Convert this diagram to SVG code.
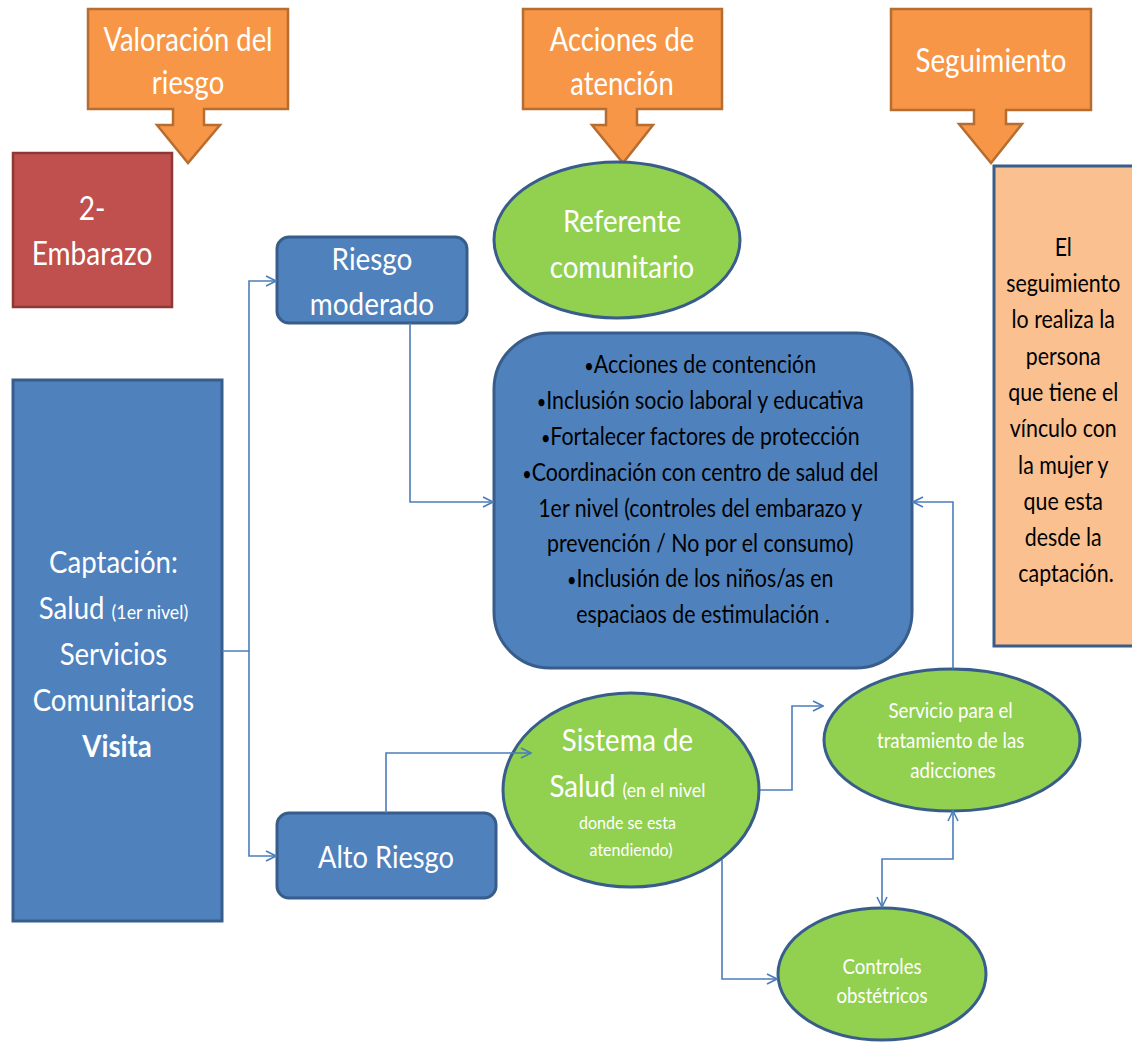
<svg xmlns="http://www.w3.org/2000/svg" width="1132" height="1047" viewBox="0 0 1132 1047">
  <defs>
    <style>
      .callout { fill: #f79646; stroke: #b66d31; stroke-width: 2.5; stroke-linejoin: miter; }
      .red { fill: #c0504d; stroke: #8c3836; stroke-width: 2.5; }
      .blue { fill: #4f81bd; stroke: #385d8a; stroke-width: 3; }
      .green { fill: #92d050; stroke: #385d8a; stroke-width: 3; }
      .peach { fill: #fac090; stroke: #385d8a; stroke-width: 3; }
      .conn { fill: none; stroke: #4a7ebb; stroke-width: 1.6; }
      text { font-family: Lato, "Open Sans", sans-serif; text-anchor: middle; }
      .w { fill: #ffffff; }
      .k { fill: #000000; }
      .big { font-size: 33px; }
      .mid { font-size: 31px; }
      .body { font-size: 25px; }
      .small { font-size: 21px; }
      .tiny { font-size: 18px; }
      .paren { font-size: 20px; }
      .dot { font-size: 19px; }
    </style>
    <marker id="open" viewBox="0 0 12 12" refX="11" refY="6" markerWidth="12" markerHeight="12" markerUnits="userSpaceOnUse" orient="auto-start-reverse">
      <path d="M1,1 L11,6 L1,11" fill="none" stroke="#4a7ebb" stroke-width="1.6"/>
    </marker>
  </defs>

  <rect width="1132" height="1047" fill="#ffffff"/>

  <!-- column headers: down-arrow callouts -->
  <g id="valoracion">
    <path class="callout" d="M88,9 H288 V109 H204 V125 H220 L188,163 L157,125 H173 V109 H88 Z"/>
    <text class="w big" transform="translate(188 0) scale(0.83 1)"><tspan x="0" y="51">Valoración del</tspan><tspan x="0" y="94">riesgo</tspan></text>
  </g>
  <g id="acciones">
    <path class="callout" d="M523,9 H722 V109 H637 V125 H653 L623,163 L592,125 H606 V109 H523 Z"/>
    <text class="w big" transform="translate(622 0) scale(0.83 1)"><tspan x="0" y="51">Acciones de</tspan><tspan x="0" y="95">atención</tspan></text>
  </g>
  <g id="seguimiento">
    <path class="callout" d="M891,9 H1091 V110 H1006 V124 H1022 L991,163 L959,124 H974 V110 H891 Z"/>
    <text class="w big" transform="translate(991 0) scale(0.84 1)"><tspan x="0" y="72">Seguimiento</tspan></text>
  </g>

  <!-- left column -->
  <g id="embarazo">
    <rect class="red" x="13" y="153" width="159" height="154"/>
    <text class="w big" transform="translate(92 0) scale(0.85 1)"><tspan x="0" y="220">2-</tspan><tspan x="0" y="265">Embarazo</tspan></text>
  </g>
  <g id="captacion">
    <rect class="blue" x="13" y="380" width="209" height="541"/>
    <text class="w mid" transform="translate(117 0) scale(0.89 1)">
      <tspan x="0" y="573">Captación:</tspan>
      <tspan x="0" y="619">Salud <tspan class="paren">(1er nivel)</tspan></tspan>
      <tspan x="0" y="665">Servicios</tspan>
      <tspan x="0" y="711">Comunitarios</tspan>
      <tspan x="0" y="757" font-weight="bold">Visita</tspan>
    </text>
  </g>

  <!-- risk levels -->
  <g id="riesgo-moderado">
    <rect class="blue" x="277" y="237" width="190" height="86" rx="12"/>
    <text class="w mid" transform="translate(372 0) scale(0.9 1)"><tspan x="0" y="270">Riesgo</tspan><tspan x="0" y="315">moderado</tspan></text>
  </g>
  <g id="alto-riesgo">
    <rect class="blue" x="277" y="813" width="219" height="85" rx="12"/>
    <text class="w mid" transform="translate(386 0) scale(0.88 1)"><tspan x="0" y="868">Alto Riesgo</tspan></text>
  </g>

  <!-- care actions -->
  <g id="referente">
    <ellipse class="green" cx="617" cy="240" rx="123" ry="78"/>
    <text class="w mid" transform="translate(622 0) scale(0.89 1)"><tspan x="0" y="232">Referente</tspan><tspan x="0" y="278">comunitario</tspan></text>
  </g>
  <g id="acciones-lista">
    <rect class="blue" x="494" y="333" width="418" height="335" rx="56"/>
    <text class="k body" transform="translate(703 0) scale(0.855 1)">
      <tspan x="0" y="373"><tspan class="dot">•</tspan>Acciones de contención</tspan>
      <tspan x="0" y="409"><tspan class="dot">•</tspan>Inclusión socio laboral y educativa</tspan>
      <tspan x="0" y="445"><tspan class="dot">•</tspan>Fortalecer factores de protección</tspan>
      <tspan x="0" y="481"><tspan class="dot">•</tspan>Coordinación con centro de salud del</tspan>
      <tspan x="0" y="517">1er nivel (controles del embarazo y</tspan>
      <tspan x="0" y="552">prevención / No por el consumo)</tspan>
      <tspan x="0" y="587"><tspan class="dot">•</tspan>Inclusión de los niños/as en</tspan>
      <tspan x="0" y="623">espaciaos de estimulación .</tspan>
    </text>
  </g>
  <g id="sistema-salud">
    <ellipse class="green" cx="631" cy="790" rx="128" ry="97"/>
    <text class="w mid" transform="translate(631 0) scale(0.89 1)">
      <tspan x="0" y="751">Sistema de</tspan>
      <tspan x="0" y="797">Salud <tspan class="paren">(en el nivel</tspan></tspan>
      <tspan class="tiny" x="0" y="829">donde se esta</tspan>
      <tspan class="tiny" x="0" y="856">atendiendo)</tspan>
    </text>
  </g>
  <g id="tratamiento">
    <ellipse class="green" cx="952" cy="740" rx="128" ry="71"/>
    <text class="w small" transform="translate(953 0) scale(0.89 1)">
      <tspan x="0" y="718">Servicio para el</tspan>
      <tspan x="0" y="748">tratamiento de las</tspan>
      <tspan x="0" y="778">adicciones</tspan>
    </text>
  </g>
  <g id="controles">
    <ellipse class="green" cx="882" cy="974" rx="104" ry="66"/>
    <text class="w small" transform="translate(882 0) scale(0.89 1)"><tspan x="0" y="974">Controles</tspan><tspan x="0" y="1003">obstétricos</tspan></text>
  </g>

  <!-- follow-up -->
  <g id="seguimiento-detalle">
    <rect class="peach" x="994" y="166" width="152" height="480"/>
    <text class="k body" transform="translate(1066 0) scale(0.855 1)">
      <tspan x="0" y="256">El</tspan>
      <tspan x="0" y="292">seguimiento</tspan>
      <tspan x="0" y="328">lo realiza la</tspan>
      <tspan x="0" y="365">persona</tspan>
      <tspan x="0" y="401">que tiene el</tspan>
      <tspan x="0" y="437">vínculo con</tspan>
      <tspan x="0" y="474">la mujer y</tspan>
      <tspan x="0" y="510">que esta</tspan>
      <tspan x="0" y="546">desde la</tspan>
      <tspan x="0" y="582">captación.</tspan>
    </text>
  </g>

  <!-- connectors -->
  <g id="connectors">
    <path class="conn" d="M222,651 H249 V281 H276" marker-end="url(#open)"/>
    <path class="conn" d="M249,651 V856 H276" marker-end="url(#open)"/>
    <path class="conn" d="M410,323 V502 H493" marker-end="url(#open)"/>
    <path class="conn" d="M386,813 V753 H531" marker-end="url(#open)"/>
    <path class="conn" d="M760,790 H792 V706 H823" marker-end="url(#open)"/>
    <path class="conn" d="M953,669 V502 H913" marker-end="url(#open)"/>
    <path class="conn" d="M953,811 V859 H882 V907" marker-start="url(#open)" marker-end="url(#open)"/>
    <path class="conn" d="M722,860 V979 H777" marker-end="url(#open)"/>
  </g>
</svg>
